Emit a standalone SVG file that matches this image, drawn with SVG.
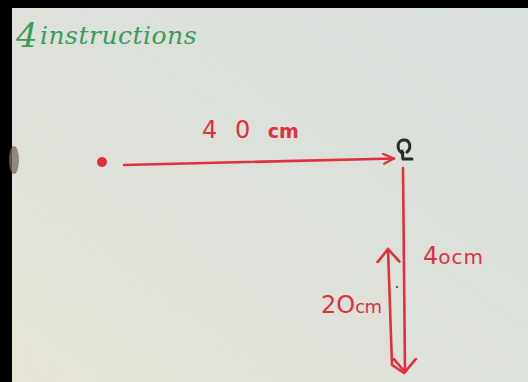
<svg xmlns="http://www.w3.org/2000/svg" width="528" height="382" viewBox="0 0 528 382">
  <defs>
    <linearGradient id="paper" x1="1" y1="0" x2="0" y2="1">
      <stop offset="0" stop-color="#d9dfdc"/>
      <stop offset="0.55" stop-color="#dde1da"/>
      <stop offset="1" stop-color="#e5e4d6"/>
    </linearGradient>
    <marker id="chevH" markerUnits="userSpaceOnUse" viewBox="0 0 14 12" refX="12" refY="6" markerWidth="14" markerHeight="12" orient="auto">
      <path d="M1,1 L12,6 L2,11" fill="none" stroke="#e0303e" stroke-width="2.2" stroke-linecap="round" stroke-linejoin="round"/>
    </marker>
    <marker id="chevV" markerUnits="userSpaceOnUse" viewBox="0 0 16 26" refX="14" refY="13" markerWidth="16" markerHeight="26" orient="auto">
      <path d="M1,2 L14,13 L1,24" fill="none" stroke="#e0303e" stroke-width="2.6" stroke-linecap="round" stroke-linejoin="round"/>
    </marker>
    <style>
      .red { fill: none; stroke: #e0303e; stroke-width: 2.6; stroke-linecap: round; stroke-linejoin: round; }
      .hand { font-family: "DejaVu Sans", "Liberation Sans", sans-serif; fill: #e0303e; }
      .title { font-family: "DejaVu Serif", "Liberation Serif", serif; font-style: italic; fill: #3c9c5c; }
    </style>
  </defs>

  <!-- background / paper -->
  <rect x="0" y="0" width="528" height="382" fill="#000"/>
  <rect x="12" y="8" width="516" height="374" fill="url(#paper)"/>
  <ellipse cx="14" cy="160" rx="5" ry="14" fill="#7a6a5c" opacity="0.75"/>

  <!-- title -->
  <g id="title">
    <text class="title" x="16" y="47" font-size="34" font-weight="300">4</text>
    <text class="title" x="40" y="44" font-size="25" letter-spacing="0.5">instructions</text>
  </g>

  <!-- start point -->
  <g id="start">
    <circle cx="102" cy="162" r="5" fill="#e0303e"/>
  </g>

  <!-- rotation symbol -->
  <g id="turn">
    <path d="M403,153 C397,152 396,141 403,140 C410,139 412,148 407,152" fill="none" stroke="#2a2a2a" stroke-width="3" stroke-linecap="round"/>
    <path d="M402,151 L403,159 L412,159" fill="none" stroke="#2a2a2a" stroke-width="3" stroke-linecap="round" stroke-linejoin="round"/>
  </g>

  <!-- labels -->
  <g id="label-top">
    <text class="hand" x="202" y="138" font-size="24" letter-spacing="5">4 0 <tspan font-size="19" font-weight="bold" letter-spacing="0">cm</tspan></text>
  </g>
  <g id="label-right">
    <text class="hand" x="423" y="264" font-size="24">4<tspan font-size="20" letter-spacing="1">ocm</tspan></text>
  </g>
  <g id="label-left">
    <text class="hand" x="321" y="313" font-size="24">2O<tspan font-size="18" letter-spacing="-0.5">cm</tspan></text>
  </g>
  <g id="mark">
    <circle cx="397" cy="287" r="1.2" fill="#6a5a50"/>
  </g>

  <!-- connectors -->
  <g id="connectors">
    <path class="red" d="M124,165 L394,158.5" marker-end="url(#chevH)"/>
    <path class="red" d="M403,168 L405,372" marker-end="url(#chevV)"/>
    <path class="red" d="M404,373 L392,365 L388,249" marker-end="url(#chevV)"/>
  </g>
</svg>
